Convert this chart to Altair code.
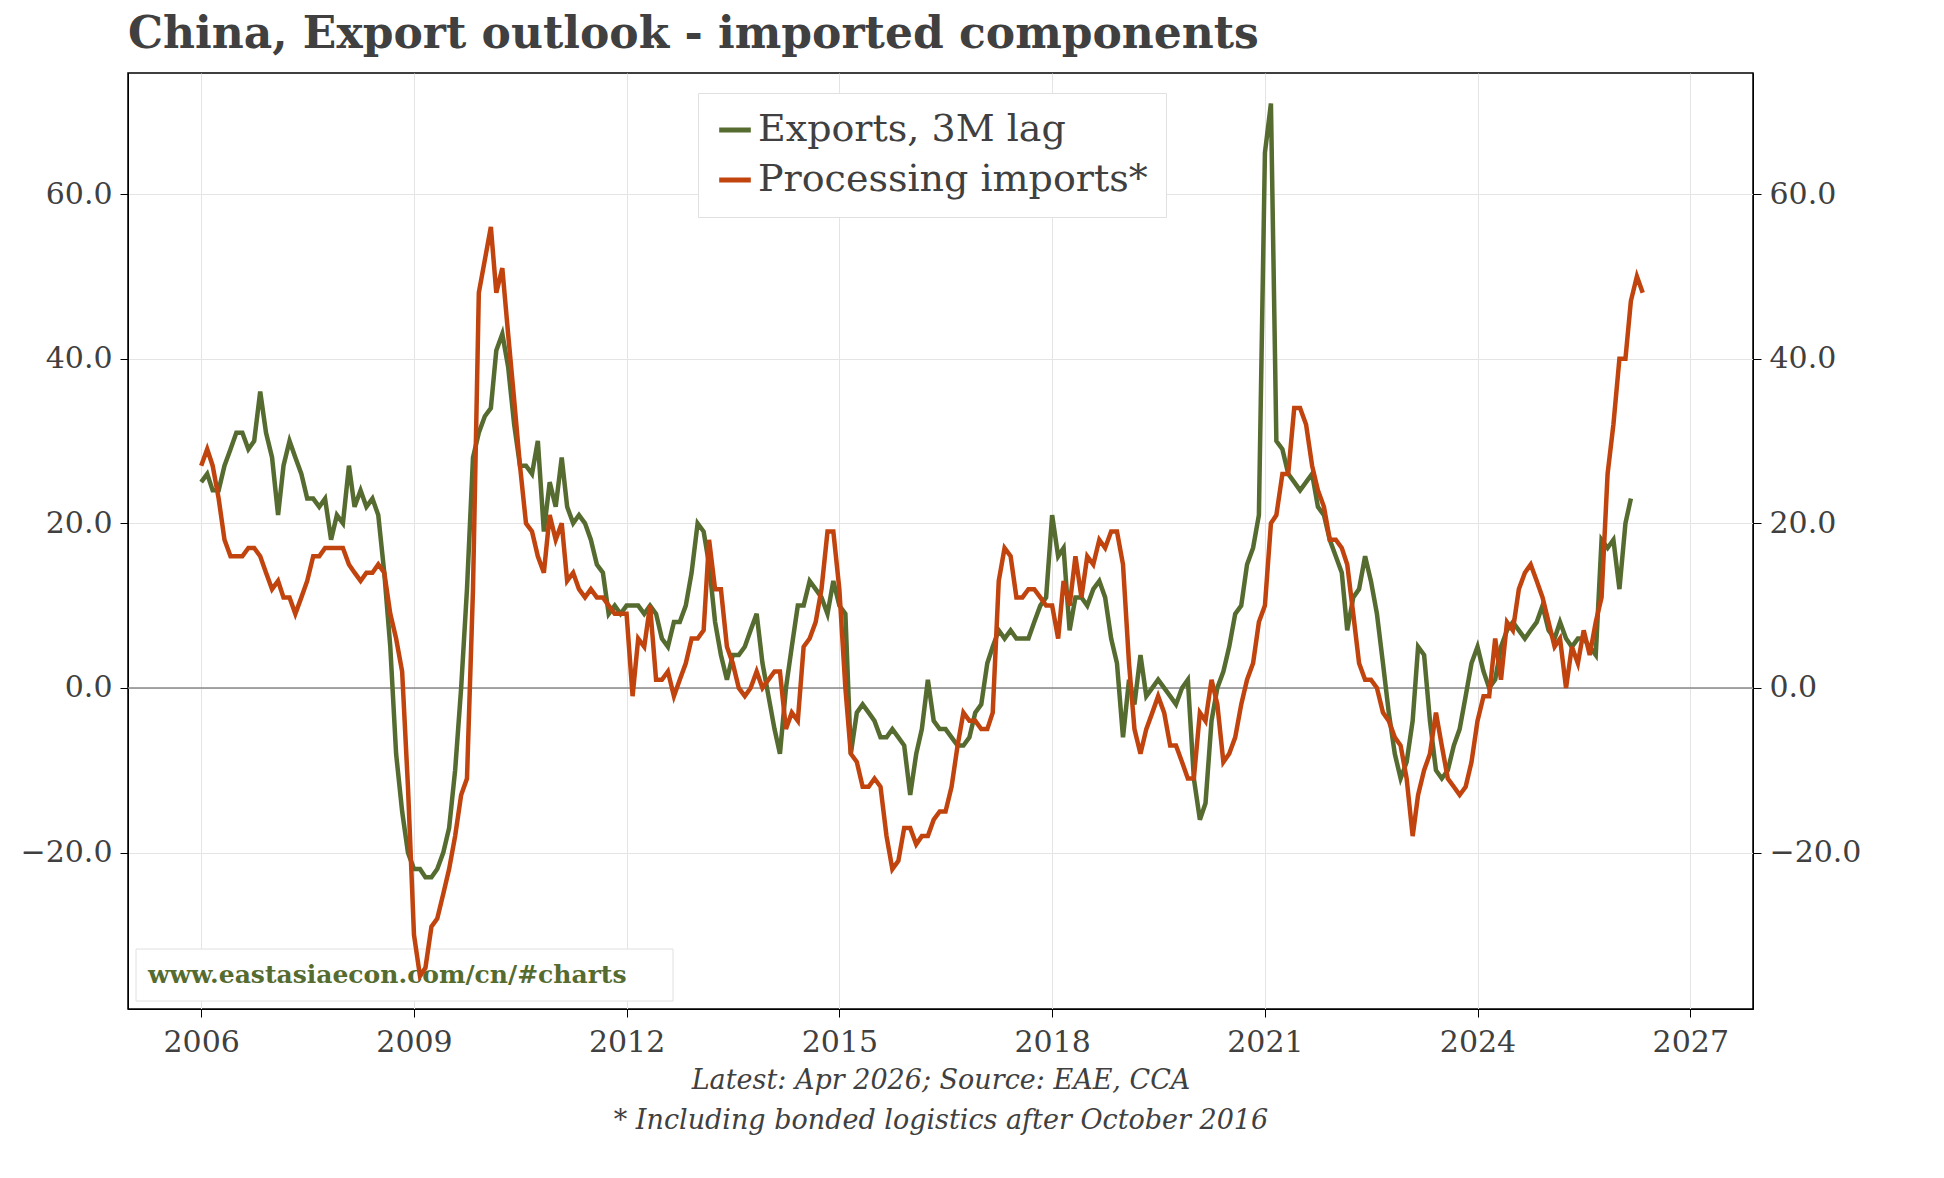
import pandas as pd
import altair as alt

# Exports, 3M lag, monthly from Jan 2006 to Mar 2026 (% y/y)
exports = [
    25, 26, 24, 24, 27, 29, 31, 31, 29, 30, 36, 31,
    28, 21, 27, 30, 28, 26, 23, 23, 22, 23, 18, 21,
    20, 27, 22, 24, 22, 23, 21, 14, 5, -8, -15, -20,
    -22, -22, -23, -23, -22, -20, -17, -10, 0, 12, 28, 31,
    33, 34, 41, 43, 39, 32, 27, 27, 26, 30, 19, 25,
    22, 28, 22, 20, 21, 20, 18, 15, 14, 9, 10, 9,
    10, 10, 10, 9, 10, 9, 6, 5, 8, 8, 10, 14,
    20, 19, 15, 8, 4, 1, 4, 4, 5, 7, 9, 3,
    -1, -5, -8, 0, 5, 10, 10, 13, 12, 11, 9, 13,
    10, 9, -8, -3, -2, -3, -4, -6, -6, -5, -6, -7,
    -13, -8, -5, 1, -4, -5, -5, -6, -7, -7, -6, -3,
    -2, 3, 5, 7, 6, 7, 6, 6, 6, 8, 10, 11,
    21, 16, 17, 7, 11, 11, 10, 12, 13, 11, 6, 3,
    -6, 1, -2, 4, -1, 0, 1, 0, -1, -2, 0, 1,
    -11, -16, -14, -4, 0, 2, 5, 9, 10, 15, 17, 21,
    65, 71, 30, 29, 26, 25, 24, 25, 26, 22, 21, 18,
    16, 14, 7, 11, 12, 16, 13, 9, 3, -3, -8, -11,
    -9, -4, 5, 4, -4, -10, -11, -10, -7, -5, -1, 3,
    5, 2, 0, 1, 5, 7, 8, 7, 6, 7, 8, 10,
    7, 6, 8, 6, 5, 6, 6, 5, 4, 18, 17, 18,
    12, 20, 23,
]

# Processing imports, monthly from Jan 2006 to May 2026 (% y/y)
processing = [
    27, 29, 27, 23, 18, 16, 16, 16, 17, 17, 16, 14,
    12, 13, 11, 11, 9, 11, 13, 16, 16, 17, 17, 17,
    17, 15, 14, 13, 14, 14, 15, 14, 9, 6, 2, -12,
    -30, -35, -34, -29, -28, -25, -22, -18, -13, -11, 12, 48,
    52, 56, 48, 51, 43, 35, 27, 20, 19, 16, 14, 21,
    18, 20, 13, 14, 12, 11, 12, 11, 11, 10, 9, 9,
    9, -1, 6, 5, 10, 1, 1, 2, -1, 1, 3, 6,
    6, 7, 18, 12, 12, 5, 3, 0, -1, 0, 2, 0,
    1, 2, 2, -5, -3, -4, 5, 6, 8, 12, 19, 19,
    12, 0, -8, -9, -12, -12, -11, -12, -18, -22, -21, -17,
    -17, -19, -18, -18, -16, -15, -15, -12, -7, -3, -4, -4,
    -5, -5, -3, 13, 17, 16, 11, 11, 12, 12, 11, 10,
    10, 6, 13, 10, 16, 11, 16, 15, 18, 17, 19, 19,
    15, 3, -5, -8, -5, -3, -1, -3, -7, -7, -9, -11,
    -11, -3, -4, 1, -2, -9, -8, -6, -2, 1, 3, 8,
    10, 20, 21, 26, 26, 34, 34, 32, 27, 24, 22, 18,
    18, 17, 15, 9, 3, 1, 1, 0, -3, -4, -6, -7,
    -11, -18, -13, -10, -8, -3, -7, -11, -12, -13, -12, -9,
    -4, -1, -1, 6, 1, 8, 7, 12, 14, 15, 13, 11,
    8, 5, 6, 0, 5, 3, 7, 4, 8, 11, 26, 32,
    40, 40, 47, 50, 48,
]

series_names = ["Exports, 3M lag", "Processing imports*"]
colors = ["#556b2f", "#c1440e"]
year_ticks = [2006, 2009, 2012, 2015, 2018, 2021, 2024, 2027]

df = pd.concat([
    pd.DataFrame({"date": pd.date_range("2006-01-01", periods=len(exports), freq="MS"),
                  "value": exports, "series": series_names[0]}),
    pd.DataFrame({"date": pd.date_range("2006-01-01", periods=len(processing), freq="MS"),
                  "value": processing, "series": series_names[1]}),
])

FONT = "DejaVu Serif"
GREY = "#404040"
ydom = [-39, 74.7]
xscale = alt.Scale(domain=[pd.Timestamp("2004-12-20").isoformat(), pd.Timestamp("2027-11-20").isoformat()])
tick_vals = [pd.Timestamp(f"{y}-01-01").isoformat() for y in year_ticks]

lines = alt.Chart(df).mark_line(strokeWidth=4.5).encode(
    x=alt.X("date:T", scale=xscale,
            axis=alt.Axis(values=tick_vals, format="%Y", labelFontSize=30, labelColor=GREY,
                          labelPadding=10, tickSize=8, domainColor="black", tickColor="black",
                          gridColor="#e4e4e4",
                          title=["Latest: Apr 2026; Source: EAE, CCA",
                                 "* Including bonded logistics after October 2016"],
                          titleFontSize=27, titleFontStyle="italic", titleFontWeight="normal",
                          titleColor=GREY, titlePadding=10, titleLineHeight=40)),
    y=alt.Y("value:Q", scale=alt.Scale(domain=ydom, nice=False),
            axis=alt.Axis(values=[-20, 0, 20, 40, 60], format=".1f", labelFontSize=30,
                          labelColor=GREY, tickSize=8, domainColor="black", tickColor="black",
                          gridColor="#e4e4e4", title=None, labelPadding=8)),
    color=alt.Color("series:N", scale=alt.Scale(domain=series_names, range=colors),
                    legend=alt.Legend(title=None, orient="none", legendX=570, legendY=20,
                                      labelFontSize=38, labelColor=GREY, symbolType="stroke",
                                      symbolSize=1000, symbolStrokeWidth=5, padding=18,
                                      rowPadding=12, labelLimit=700,
                                      fillColor="white", strokeColor="#e0e0e0")),
)

right_axis = alt.Chart(pd.DataFrame({"value": [0]})).mark_point(opacity=0).encode(
    y=alt.Y("value:Q", scale=alt.Scale(domain=ydom, nice=False),
            axis=alt.Axis(orient="right", values=[-20, 0, 20, 40, 60], format=".1f",
                          labelFontSize=30, labelColor=GREY, tickSize=8, domainColor="black",
                          tickColor="black", grid=False, title=None, labelPadding=8)),
)

zero = alt.Chart(pd.DataFrame({"value": [0]})).mark_rule(color="#888888", strokeWidth=1.5).encode(
    y="value:Q"
)

mark_box = alt.Chart(pd.DataFrame({"t": ["www.eastasiaecon.com/cn/#charts"]})).mark_rect(
    fill="white", stroke="#e0e0e0").encode(
    x=alt.value(8), x2=alt.value(545), y=alt.value(876), y2=alt.value(928))

mark_text = alt.Chart(pd.DataFrame({"t": ["www.eastasiaecon.com/cn/#charts"]})).mark_text(
    font=FONT, fontSize=25, fontWeight="bold", color="#556b2f", align="left", baseline="middle"
).encode(x=alt.value(20), y=alt.value(902), text="t:N")

chart = alt.layer(zero, mark_box, mark_text, lines).resolve_scale(y="shared")
chart = alt.layer(chart, right_axis).resolve_scale(y="independent").properties(
    width=1625, height=936,
    padding={"left": 12, "top": 5, "right": 5, "bottom": 5},
    title=alt.TitleParams("China, Export outlook - imported components", fontSize=44,
                          font=FONT, fontWeight="bold", color=GREY, anchor="start",
                          frame="group", offset=16),
).configure(font=FONT).configure_view(stroke="black", strokeWidth=1.5)

chart.save("out.html", embed_options={"renderer": "svg", "actions": False})
